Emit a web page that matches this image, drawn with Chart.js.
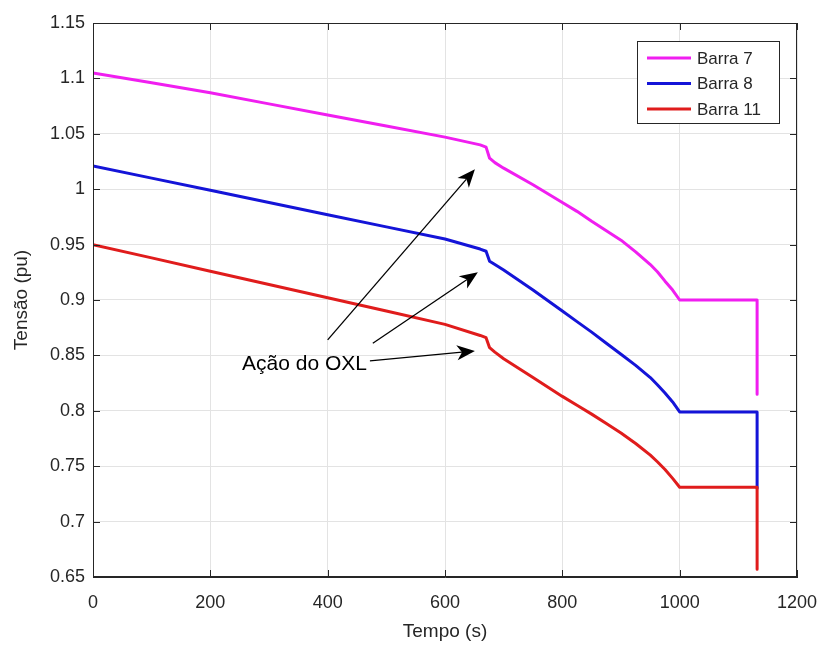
<!DOCTYPE html>
<html>
<head>
<meta charset="utf-8">
<script src="https://cdn.jsdelivr.net/npm/chart.js@4/dist/chart.umd.min.js"></script>
<style>
  html, body { margin: 0; padding: 0; background: #fff; }
  canvas { display: block; }
</style>
</head>
<body>
<canvas id="tensao-chart" width="822" height="646"></canvas>
<script>
// Time (s) and bus voltages (pu)
const tempo   = [0, 100, 200, 300, 400, 500, 600, 660, 670, 676, 685, 700, 750, 800, 825, 850, 875, 900, 925, 950, 962, 975, 988, 1000, 1132, 1132];
const barra7  = [1.105, 1.096, 1.087, 1.077, 1.067, 1.057, 1.047, 1.040, 1.038, 1.028, 1.024, 1.019, 1.004, 0.988, 0.980, 0.971, 0.9625, 0.954, 0.9435, 0.932, 0.9255, 0.917, 0.909, 0.900, 0.900, 0.815];
const barra8  = [1.021, 1.010, 0.999, 0.988, 0.977, 0.966, 0.955, 0.946, 0.944, 0.935, 0.932, 0.927, 0.909, 0.890, 0.8805, 0.871, 0.861, 0.851, 0.841, 0.830, 0.8235, 0.816, 0.808, 0.799, 0.799, 0.730];
const barra11 = [0.950, 0.938, 0.926, 0.914, 0.902, 0.890, 0.878, 0.868, 0.866, 0.857, 0.853, 0.847, 0.830, 0.813, 0.805, 0.797, 0.7885, 0.780, 0.7705, 0.760, 0.754, 0.747, 0.739, 0.731, 0.731, 0.657];

const seriesNames = ['Barra 7', 'Barra 8', 'Barra 11'];
const xTicks = [0, 200, 400, 600, 800, 1000, 1200];
const yTicks = [0.65, 0.7, 0.75, 0.8, 0.85, 0.9, 0.95, 1, 1.05, 1.1, 1.15];

// "Ação do OXL" annotation, in data units: text anchor and arrows [tail, head]
const oxlLabel = { text: 'Ação do OXL', t: 254, v: 0.842 };
const oxlArrows = [
    [[400, 0.864], [651, 1.018]],
    [[477, 0.861], [656, 0.925]],
    [[472, 0.845], [651, 0.854]]
];

const FONT = 'Liberation Sans, Arial, Helvetica, sans-serif';
const AXIS = '#262626';
const TEXT = '#262626';

const toPoints = vals => vals.map((v, i) => ({ x: tempo[i], y: v }));

// MATLAB-style frame: box, inward ticks, legend in the corner, arrows
const matlabFrame = {
    id: 'matlabFrame',
    afterDraw(chart) {
        const { ctx, chartArea: a, scales: { x, y } } = chart;
        ctx.save();
        ctx.strokeStyle = AXIS;
        ctx.lineWidth = 1;
        ctx.strokeRect(a.left + 0.5, a.top + 0.5, a.right - a.left - 1, a.bottom - a.top - 1);

        const tl = 7;
        ctx.beginPath();
        xTicks.forEach(t => {
            const px = Math.round(x.getPixelForValue(t)) + 0.5;
            ctx.moveTo(px, a.bottom); ctx.lineTo(px, a.bottom - tl);
            ctx.moveTo(px, a.top); ctx.lineTo(px, a.top + tl);
        });
        yTicks.forEach(v => {
            const py = Math.round(y.getPixelForValue(v)) + 0.5;
            ctx.moveTo(a.left, py); ctx.lineTo(a.left + tl, py);
            ctx.moveTo(a.right, py); ctx.lineTo(a.right - tl, py);
        });
        ctx.stroke();

        // annotation
        ctx.fillStyle = '#000';
        ctx.strokeStyle = '#000';
        ctx.font = '21px ' + FONT;
        ctx.textAlign = 'left';
        ctx.textBaseline = 'middle';
        ctx.fillText(oxlLabel.text, x.getPixelForValue(oxlLabel.t), y.getPixelForValue(oxlLabel.v));
        oxlArrows.forEach(([tail, head]) => {
            const x0 = x.getPixelForValue(tail[0]), y0 = y.getPixelForValue(tail[1]);
            const x1 = x.getPixelForValue(head[0]), y1 = y.getPixelForValue(head[1]);
            const ang = Math.atan2(y1 - y0, x1 - x0);
            const len = 18, half = 7.5, notch = 5;
            const cos = Math.cos(ang), sin = Math.sin(ang);
            const bx = x1 - len * cos, by = y1 - len * sin;
            ctx.beginPath();
            ctx.moveTo(x0, y0);
            ctx.lineTo(x1 - (len - notch) * cos, y1 - (len - notch) * sin);
            ctx.lineWidth = 1.3;
            ctx.stroke();
            ctx.beginPath();
            ctx.moveTo(x1, y1);
            ctx.lineTo(bx - half * sin, by + half * cos);
            ctx.lineTo(x1 - (len - notch) * cos, y1 - (len - notch) * sin);
            ctx.lineTo(bx + half * sin, by - half * cos);
            ctx.closePath();
            ctx.fill();
        });

        // legend box
        const lx = 637, ly = 41, lw = 142, lh = 82;
        ctx.fillStyle = '#fff';
        ctx.fillRect(lx, ly, lw, lh);
        ctx.lineWidth = 1;
        ctx.strokeStyle = AXIS;
        ctx.strokeRect(lx + 0.5, ly + 0.5, lw, lh);
        ctx.font = '17px ' + FONT;
        ctx.textBaseline = 'middle';
        chart.data.datasets.forEach((ds, i) => {
            const ry = ly + 17 + i * 25.5;
            ctx.strokeStyle = ds.borderColor;
            ctx.lineWidth = 3;
            ctx.beginPath();
            ctx.moveTo(lx + 10, ry); ctx.lineTo(lx + 54, ry);
            ctx.stroke();
            ctx.fillStyle = TEXT;
            ctx.fillText(ds.label, lx + 60, ry + 1);
        });
        ctx.restore();
    }
};

const chart = new Chart(document.getElementById('tensao-chart'), {
    type: 'line',
    data: {
        datasets: [
            { label: seriesNames[0], data: toPoints(barra7),  borderColor: '#f01ef0', order: 2 },
            { label: seriesNames[1], data: toPoints(barra8),  borderColor: '#1414d8', order: 1 },
            { label: seriesNames[2], data: toPoints(barra11), borderColor: '#e01c1c', order: 0 }
        ]
    },
    options: {
        responsive: false,
        devicePixelRatio: 1,
        animation: false,
        layout: { padding: { top: 23, right: 25, left: 0, bottom: 0 } },
        elements: {
            line: { borderWidth: 3, tension: 0, borderJoinStyle: 'round' },
            point: { radius: 0 }
        },
        plugins: { legend: { display: false }, tooltip: { enabled: false } },
        scales: {
            x: {
                type: 'linear', min: 0, max: 1200,
                afterBuildTicks: s => { s.ticks = xTicks.map(v => ({ value: v })); },
                afterFit: s => { s.height = 69; s.paddingLeft = 0; s.paddingRight = 0; },
                ticks: { color: TEXT, font: { family: FONT, size: 18 }, padding: 15, maxRotation: 0, callback: v => String(v) },
                grid: { color: '#e3e3e3', drawTicks: false },
                border: { color: AXIS },
                title: { display: true, text: 'Tempo (s)', color: TEXT, font: { family: FONT, size: 19 }, padding: { top: 0, bottom: 3 } }
            },
            y: {
                min: 0.65, max: 1.15,
                afterBuildTicks: s => { s.ticks = yTicks.map(v => ({ value: v })); },
                afterFit: s => { s.width = 93; s.paddingTop = 0; s.paddingBottom = 0; },
                ticks: {
                    color: TEXT, font: { family: FONT, size: 18 }, padding: 8,
                    callback: v => String(Number(v.toFixed(2)))
                },
                grid: { color: '#e3e3e3', drawTicks: false },
                border: { color: AXIS },
                title: { display: true, text: 'Tensão (pu)', color: TEXT, font: { family: FONT, size: 19 }, padding: { top: 10, bottom: 0 } }
            }
        }
    },
    plugins: [matlabFrame]
});
</script>
</body>
</html>
